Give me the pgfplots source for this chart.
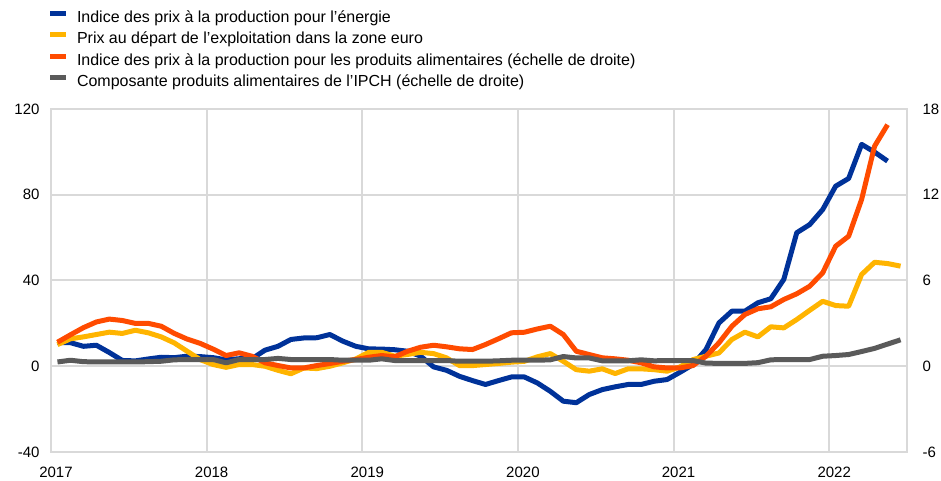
\documentclass[border=0pt]{standalone}
\usepackage{fontspec}
\setmainfont{Liberation Sans}
\usepackage{pgfplots}
\usepackage{pgfplotstable}
\pgfplotsset{compat=1.18}
\definecolor{ecbblue}{RGB}{0,50,153}
\definecolor{ecbyellow}{RGB}{255,180,0}
\definecolor{ecborange}{RGB}{255,75,0}
\definecolor{ecbgray}{RGB}{90,90,90}
\definecolor{gridgray}{RGB}{217,217,217}

\pgfplotstableread{
x blue yellow orange gray
0.5 11 10.1 1.68 0.30
1.5 11 12.8 2.2 0.42
2.5 9.3 13.7 2.7 0.32
3.5 9.8 14.8 3.1 0.30
4.5 6.4 15.9 3.3 0.30
5.5 2.7 15.3 3.2 0.30
6.5 2.5 16.8 3.0 0.30
7.5 3.4 15.6 3.0 0.32
8.5 4.2 13.7 2.8 0.35
9.5 4.0 10.9 2.3 0.45
10.5 4.7 7.0 1.9 0.47
11.5 4.5 3.1 1.6 0.47
12.5 4.0 0.8 1.2 0.47
13.5 3.0 -0.5 0.75 0.24
14.5 3.5 0.8 0.94 0.47
15.5 3.5 0.8 0.70 0.47
16.5 7.5 0.0 0.24 0.47
17.5 9.3 -1.9 0.05 0.55
18.5 12.5 -3.5 -0.12 0.47
19.5 13.2 -0.8 -0.12 0.47
20.5 13.3 -1.1 0.05 0.47
21.5 14.8 0.0 0.19 0.47
22.5 11.7 1.6 0.35 0.42
23.5 9.3 3.4 0.47 0.42
24.5 8.1 6.5 0.63 0.42
25.5 8.0 6.5 0.75 0.52
26.5 7.7 4.7 0.66 0.40
27.5 7.0 5.5 1.05 0.40
28.5 4.7 6.5 1.33 0.40
29.5 -0.3 5.9 1.47 0.40
30.5 -1.9 3.9 1.36 0.40
31.5 -4.7 0.3 1.22 0.35
32.5 -6.7 0.3 1.17 0.35
33.5 -8.5 0.8 1.52 0.35
34.5 -6.7 1.3 1.92 0.38
35.5 -5.0 1.9 2.34 0.42
36.5 -5.0 2.3 2.38 0.42
37.5 -7.8 4.4 2.61 0.42
38.5 -11.7 5.9 2.80 0.45
39.5 -16.3 2.3 2.22 0.68
40.5 -17.0 -1.6 1.05 0.58
41.5 -13.2 -2.3 0.82 0.58
42.5 -10.9 -1.2 0.59 0.38
43.5 -9.6 -3.4 0.52 0.38
44.5 -8.5 -1.2 0.42 0.38
45.5 -8.5 -1.2 0.24 0.45
46.5 -7.0 -1.6 -0.04 0.38
47.5 -6.2 -2.3 -0.12 0.40
48.5 -2.8 -0.3 -0.12 0.40
49.5 0.8 3.1 0.05 0.40
50.5 7.8 4.7 0.70 0.22
51.5 20.2 6.2 1.64 0.20
52.5 25.7 12.5 2.80 0.20
53.5 25.7 15.9 3.62 0.20
54.5 29.6 13.7 4.02 0.25
55.5 31.5 18.4 4.16 0.45
56.5 40.5 17.9 4.67 0.47
57.5 62.3 21.8 5.07 0.47
58.5 66.1 26.1 5.60 0.47
59.5 73.1 30.3 6.54 0.70
60.5 84.0 28.3 8.40 0.75
61.5 87.6 28.0 9.10 0.82
62.5 103.5 42.8 11.67 1.03
63.5 99.9 48.5 15.40 1.25
64.5 95.7 47.9 16.90 1.55
65.5 nan 46.7 nan 1.85
}\data

\begin{document}
\begin{tikzpicture}
\path[use as bounding box] (-51pt,-29pt) rectangle (890pt,452pt);
\begin{axis}[
  at={(0pt,0pt)}, anchor=south west,
  scale only axis, width=856pt, height=343pt,
  xmin=0, xmax=66, ymin=-40, ymax=120,
  xtick={0,12,24,36,48,60},
  xticklabels={2017,2018,2019,2020,2021,2022},
  ytick={-40,0,40,80,120},
  yticklabels={-40,0,40,80,120},
  major tick length=0pt,
  grid=major,
  grid style={gridgray, line width=2pt},
  axis line style={gridgray, line width=2pt},
  tick label style={font=\fontsize{15}{18}\selectfont, text=black},
  yticklabel style={xshift=-8pt},
  xticklabel style={yshift=-11pt, xshift=5pt},
  legend cell align=left,
  legend image code/.code={\fill[#1, draw=none] (0pt,2.5pt) rectangle (16pt,7.5pt);},
  legend style={at={(axis description cs:0,1)}, anchor=north west,
    xshift=-1pt, yshift=98pt, draw=none, fill=none,
    inner sep=0pt, outer sep=0pt, row sep=6.5pt, column sep=11pt,
    nodes={inner sep=0pt, text height=11.5pt, text depth=3.5pt,
      font=\fontsize{16}{19}\selectfont}},
]
\addplot[ecbblue, line width=5pt, line join=round, no marks] table[x=x, y=blue]{\data};
\addlegendentry{Indice des prix à la production pour l’énergie}
\addplot[ecbyellow, line width=5pt, line join=round, no marks] table[x=x, y=yellow]{\data};
\addlegendentry{Prix au départ de l’exploitation dans la zone euro}
\addlegendimage{ecborange}
\addlegendentry{Indice des prix à la production pour les produits alimentaires (échelle de droite)}
\addlegendimage{ecbgray}
\addlegendentry{Composante produits alimentaires de l’IPCH (échelle de droite)}
\end{axis}
\begin{axis}[
  at={(0pt,0pt)}, anchor=south west,
  scale only axis, width=856pt, height=343pt,
  xmin=0, xmax=66, ymin=-6, ymax=18,
  axis y line*=right, axis x line=none,
  ytick={-6,0,6,12,18},
  yticklabels={-6,0,6,12,18},
  major tick length=0pt,
  axis line style={draw=none},
  tick label style={font=\fontsize{15}{18}\selectfont, text=black},
  yticklabel style={xshift=12pt},
]
\addplot[ecborange, line width=5pt, line join=round, no marks] table[x=x, y=orange]{\data};
\addplot[ecbgray, line width=5pt, line join=round, no marks] table[x=x, y=gray]{\data};
\end{axis}
\end{tikzpicture}
\end{document}
